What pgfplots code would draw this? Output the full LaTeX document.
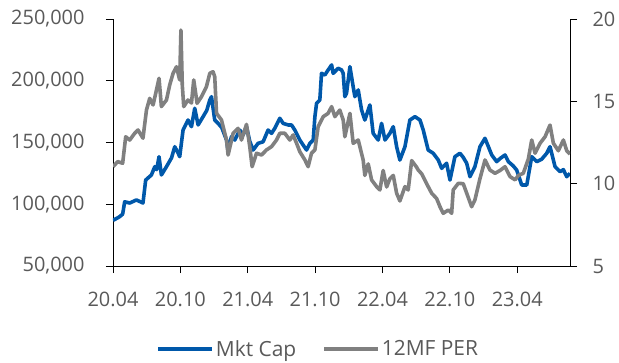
\documentclass[border=0pt]{standalone}
\usepackage{pgfplots}
\pgfplotsset{compat=1.18}
\usepackage{fontspec}
\setmainfont{Open Sans}
\definecolor{mcblue}{RGB}{0,88,170}
\definecolor{pergray}{RGB}{128,128,128}
\definecolor{txtgray}{RGB}{89,89,89}
\begin{document}
\begin{tikzpicture}
\path[use as bounding box] (-113bp,-97bp) rectangle (506bp,266bp);
\pgfplotsset{common/.style={
  scale only axis, width=457bp, height=247bp,
  xmin=0, xmax=40.7, at={(0bp,0bp)}, anchor=south west,
  tick align=outside, major tick length=7bp,
  tick style={black, line width=0.8bp},
  axis line style={black, line width=0.8bp},
  ticklabel style={font=\fontsize{20}{24}\selectfont, text=txtgray},
  /pgf/number format/assume math mode=true,
  /pgf/number format/fixed,
  scaled ticks=false,
}}
\begin{axis}[common,
  axis x line*=bottom, axis y line*=left,
  ymin=50000, ymax=250000,
  ytick={50000,100000,150000,200000,250000},
  /pgf/number format/1000 sep={,},
  yticklabel style={xshift=-18bp},
  xticklabel style={yshift=-16bp},
  xtick={0,6,12,18,24,30,36},
  xticklabels={20.04,20.10,21.04,21.10,22.04,22.10,23.04},
]
\addplot[mcblue, line width=3.6bp, line join=round] coordinates {
(0,87000) (0.42,89000) (0.60,90000) (0.86,92000) (1.04,102000) (1.49,101000)
(2.09,103500) (2.67,101000) (2.91,119600) (3.42,123700) (3.72,130400) (3.89,128000)
(4.10,138500) (4.31,123700) (4.76,130400) (5.21,137500) (5.50,146600) (5.77,142000)
(5.94,138500) (6.24,160100) (6.68,168200) (6.99,162800) (7.28,177700) (7.58,164200)
(8.02,170900) (8.35,176000) (8.62,184400) (8.77,187100) (9.06,168200) (9.33,165800)
(9.69,162000) (10.11,152000) (10.25,143000) (10.55,154700) (10.85,152000) (11.29,160100)
(11.59,156100) (11.89,162800) (12.18,151000) (12.48,143900) (12.92,149300) (13.37,150600)
(13.81,160100) (14.12,157400) (14.41,161500) (14.86,169600) (15.15,165500) (15.60,164200)
(15.90,164200) (16.19,160100) (16.64,152000) (16.93,148000) (17.24,143900) (17.53,149300)
(17.83,152000) (17.98,170900) (18.13,181700) (18.42,184400) (18.57,206000) (18.87,204700)
(19.16,208700) (19.47,212800) (19.61,206000) (20.05,210100) (20.36,208700) (20.50,206000)
(20.65,187100) (20.80,190000) (21.10,211400) (21.39,195200) (21.54,187100) (21.84,192500)
(22.14,176300) (22.43,168200) (22.88,180400) (23.17,157400) (23.62,152000) (23.92,165500)
(24.22,152000) (24.66,157400) (24.96,162800) (25.26,146600) (25.55,135800) (26.00,146600)
(26.44,168200) (26.89,170900) (27.34,168200) (27.63,160100) (28.07,143900) (28.52,141300)
(28.97,135800) (29.27,129100) (29.71,133200) (30.01,119600) (30.45,138500) (30.90,141300)
(31.19,138000) (31.50,133200) (31.79,122300) (32.23,130400) (32.68,146600) (33.13,153400)
(33.73,139900) (34.17,134500) (34.47,137000) (34.91,139900) (35.21,134500) (35.65,131000)
(35.95,127700) (36.40,115600) (36.85,115600) (37.29,138500) (37.74,134500) (38.18,136500)
(38.63,141300) (38.92,146600) (39.37,130400) (39.81,126400) (40.11,128000) (40.41,122300)
(40.70,125000)
};
\end{axis}
\begin{axis}[common,
  axis y line*=right, axis x line=none,
  ymin=5, ymax=20, ytick={5,10,15,20},
  yticklabel style={xshift=12bp},
  legend style={at={(0.449,-0.336)}, anchor=center, draw=none, fill=none,
    legend columns=2, font=\fontsize{21}{25}\selectfont, text=txtgray,
    /tikz/every even column/.append style={column sep=24bp}},
  legend image code/.code={\draw[#1] (0bp,0bp) -- (54bp,0bp);},
]
\addlegendimage{mcblue, line width=3.6bp}
\addlegendentry{Mkt Cap}
\addplot[pergray, line width=3.6bp, line join=round] coordinates {
(0,11.03) (0.42,11.34) (0.86,11.24) (1.13,12.85) (1.49,12.65) (1.93,13.06)
(2.23,13.26) (2.67,12.76) (2.98,14.47) (3.27,15.18) (3.57,14.78) (3.87,15.69)
(4.10,16.40) (4.31,14.68) (4.76,15.08) (5.05,15.99) (5.35,16.70) (5.65,17.10)
(5.94,16.30) (6.05,19.33) (6.17,16.0) (6.30,14.68) (6.68,15.08) (6.99,14.9)
(7.19,16.30) (7.49,14.88) (7.88,15.28) (8.32,15.89) (8.62,16.70) (8.91,16.80)
(9.06,16.50) (9.22,14.27) (9.66,13.87) (10.11,12.65) (10.25,11.74) (10.70,13.06)
(11.14,13.36) (11.44,12.65) (11.89,13.60) (12.18,12.25) (12.39,11.03) (12.78,11.85)
(13.23,11.74) (13.67,12.05) (14.12,12.25) (14.56,12.65) (14.86,13.06) (15.30,13.06)
(15.75,12.65) (16.04,12.96) (16.35,12.45) (16.64,11.94) (17.09,11.44) (17.38,11.03)
(17.68,11.85) (17.98,12.05) (18.27,13.46) (18.72,14.07) (19.16,14.27) (19.47,14.68)
(19.76,14.07) (20.20,14.47) (20.50,13.87) (20.65,12.85) (21.10,14.27) (21.39,12.45)
(21.84,12.65) (22.28,11.44) (22.43,10.5) (22.73,11.2) (23.03,10.23) (23.48,9.82)
(23.77,9.62) (24.06,10.8) (24.37,9.8) (24.66,10.3) (24.96,10.5) (25.26,9.42)
(25.55,8.95) (26.00,9.82) (26.29,9.62) (26.60,11.4) (27.04,11.0) (27.18,10.83)
(27.49,10.6) (27.93,10.0) (28.38,9.42) (28.82,9.1) (29.12,8.60) (29.41,8.20)
(29.86,8.40) (30.16,8.20) (30.30,9.62) (30.75,10.02) (31.19,10.0) (31.50,9.42)
(31.94,8.60) (32.23,9.01) (32.68,10.3) (33.13,11.44) (33.57,10.83) (34.02,10.63)
(34.47,10.8) (34.91,11.03) (35.36,10.43) (35.81,10.23) (36.10,10.5) (36.54,10.63)
(36.99,11.5) (37.29,12.65) (37.59,11.85) (38.03,12.45) (38.48,12.85) (38.92,13.56)
(39.22,12.45) (39.66,12.0) (40.11,12.65) (40.41,12.0) (40.70,11.8)
};
\addlegendentry{12MF PER}
\end{axis}
\end{tikzpicture}
\end{document}
